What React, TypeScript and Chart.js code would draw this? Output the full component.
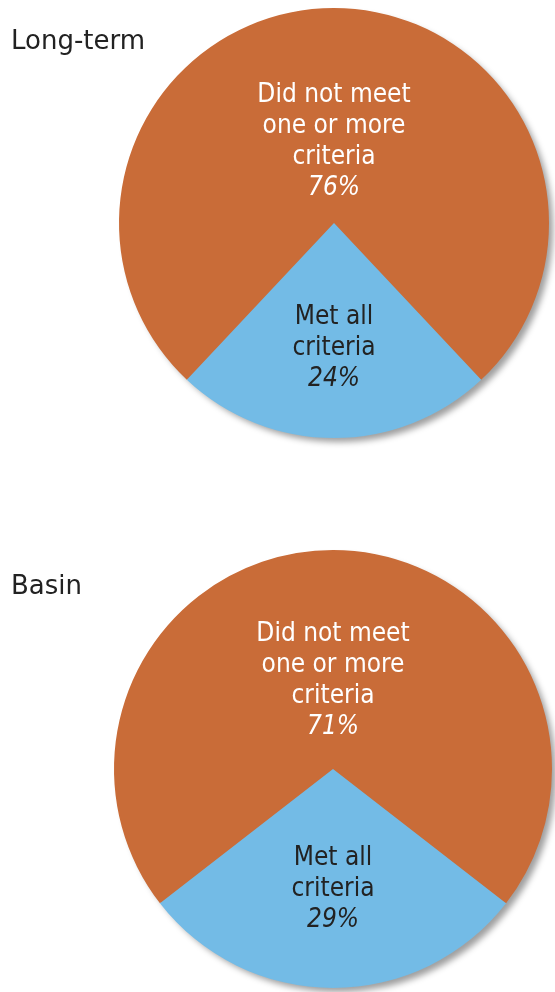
import React, { useEffect, useRef } from "react";
import { Chart, registerables } from "chart.js";

Chart.register(...registerables);

const categories = ["Did not meet one or more criteria", "Met all criteria"];
const longTermValues = [76, 24];
const basinValues = [71, 29];
const chartTitles = ["Long-term", "Basin"];
const sliceLabelLines = [
  ["Did not meet", "one or more", "criteria"],
  ["Met all", "criteria"],
];

const ORANGE = "#C96C38";
const BLUE = "#73BBE6";
const FONT = "'DejaVu Sans', Verdana, sans-serif";
const LABEL_FONT = "'DejaVu Sans Condensed', 'DejaVu Sans', sans-serif";

function makeChart(
  canvas: HTMLCanvasElement,
  values: number[],
  title: string,
  padding: { left: number; right: number; top: number; bottom: number },
  titleBaseline: number,
  labelPos: [number, number]
) {
  const blueDeg = (values[1] / (values[0] + values[1])) * 360;
  const rotation = 180 + blueDeg / 2;

  const shadowPlugin = {
    id: "shadowCircle",
    beforeDatasetsDraw(chart: any) {
      const arc = chart.getDatasetMeta(0).data[0];
      if (!arc) return;
      const ctx = chart.ctx;
      ctx.save();
      ctx.shadowColor = "rgba(0,0,0,0.38)";
      ctx.shadowBlur = 6;
      ctx.shadowOffsetX = 5;
      ctx.shadowOffsetY = 5;
      ctx.beginPath();
      ctx.arc(arc.x, arc.y, arc.outerRadius - 1, 0, Math.PI * 2);
      ctx.fillStyle = ORANGE;
      ctx.fill();
      ctx.restore();
    },
  };

  const labelPlugin = {
    id: "sliceLabels",
    afterDatasetsDraw(chart: any) {
      const meta = chart.getDatasetMeta(0);
      const arc = meta.data[0];
      if (!arc) return;
      const ctx = chart.ctx;
      const r = arc.outerRadius;
      const lh = 31;
      const fs = 26;
      ctx.save();
      ctx.textAlign = "center";
      ctx.textBaseline = "middle";
      // orange
      const oLines = sliceLabelLines[0];
      const oCount = oLines.length + 1;
      const oCenter = arc.y - labelPos[0] * r;
      let y0 = oCenter - ((oCount - 1) * lh) / 2;
      ctx.fillStyle = "#ffffff";
      ctx.font = `${fs}px ${LABEL_FONT}`;
      oLines.forEach((t, i) => ctx.fillText(t, arc.x, y0 + i * lh));
      ctx.font = `italic ${fs}px ${LABEL_FONT}`;
      ctx.fillText(values[0] + "%", arc.x, y0 + oLines.length * lh);
      // blue
      const bLines = sliceLabelLines[1];
      const bCount = bLines.length + 1;
      const bCenter = arc.y + labelPos[1] * r;
      y0 = bCenter - ((bCount - 1) * lh) / 2;
      ctx.fillStyle = "#222222";
      ctx.font = `${fs}px ${LABEL_FONT}`;
      bLines.forEach((t, i) => ctx.fillText(t, arc.x, y0 + i * lh));
      ctx.font = `italic ${fs}px ${LABEL_FONT}`;
      ctx.fillText(values[1] + "%", arc.x, y0 + bLines.length * lh);
      // title
      ctx.textAlign = "left";
      ctx.textBaseline = "alphabetic";
      ctx.fillStyle = "#222222";
      ctx.font = `26px ${FONT}`;
      ctx.fillText(title, 11, titleBaseline);
      ctx.restore();
    },
  };

  return new Chart(canvas, {
    type: "pie",
    data: {
      labels: categories,
      datasets: [
        {
          data: values,
          backgroundColor: [ORANGE, BLUE],
          borderWidth: 0,
        },
      ],
    },
    options: {
      animation: false,
      responsive: false,
      maintainAspectRatio: false,
      rotation,
      layout: { padding },
      plugins: {
        legend: { display: false },
        tooltip: { enabled: false },
        title: { display: false },
      },
    },
    plugins: [shadowPlugin, labelPlugin],
  });
}

export default function App() {
  const c1 = useRef<HTMLCanvasElement>(null);
  const c2 = useRef<HTMLCanvasElement>(null);

  useEffect(() => {
    const ch1 = makeChart(
      c1.current!,
      longTermValues,
      chartTitles[0],
      { left: 119, right: 6, top: 8, bottom: 12 },
      49,
      [0.377, 0.583]
    );
    const ch2 = makeChart(
      c2.current!,
      basinValues,
      chartTitles[1],
      { left: 114, right: 3, top: 10, bottom: 4 },
      54,
      [0.405, 0.55]
    );
    return () => {
      ch1.destroy();
      ch2.destroy();
    };
  }, []);

  return (
    <div
      style={{
        position: "fixed",
        left: 0,
        top: 0,
        width: 555,
        height: 992,
        overflow: "hidden",
        background: "#ffffff",
      }}
    >
      <canvas
        ref={c1}
        width={555}
        height={450}
        style={{ position: "absolute", left: 0, top: 0, width: 555, height: 450 }}
      />
      <canvas
        ref={c2}
        width={555}
        height={452}
        style={{ position: "absolute", left: 0, top: 540, width: 555, height: 452 }}
      />
    </div>
  );
}
